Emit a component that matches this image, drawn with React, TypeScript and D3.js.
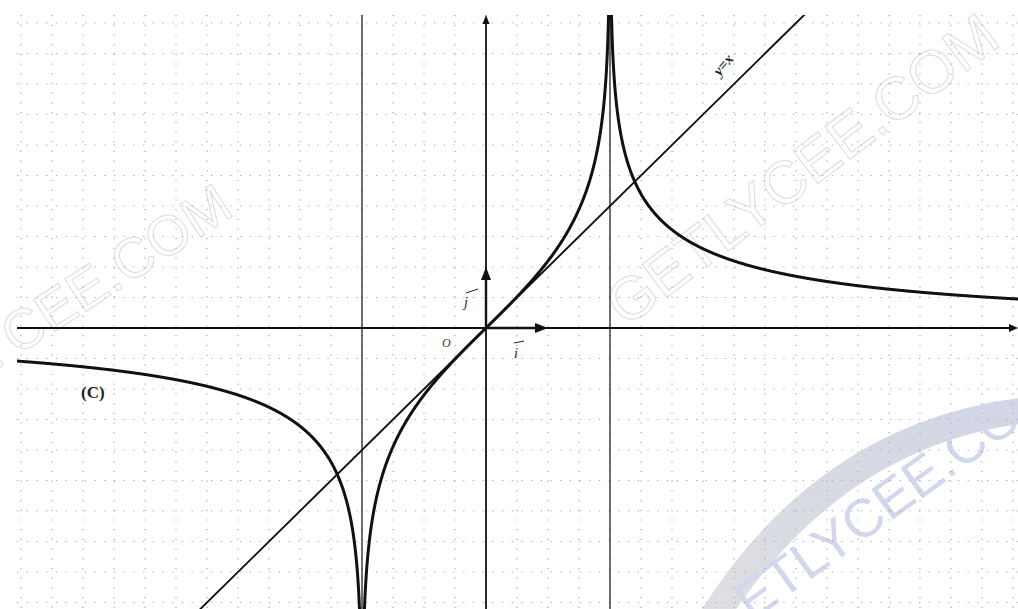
import * as d3 from "d3";

const W = 1018;
const H = 609;

// graph of (C): y = ln|(x + 2) / (x - 2)|, asymptotes x = -2 and x = 2
const asymptotes = [-2, 2];
const curveLabel = "(C)";
const lineLabel = "y=x";
const originLabel = "O";
const iLabel = "i";
const jLabel = "j";
const gridX = d3.range(-15, 18).map((k) => k / 2);
const gridY = d3.range(-9, 11).map((k) => k / 2);
const xMin = -7.85;
const xMax = 8.6;

// watermark texts
const marks = [
  { text: "GETLYCEE.COM", x: 236, y: 214, angle: -33, size: 56 },
  { text: "GETLYCEE.COM", x: 1003, y: 44, angle: -37, size: 60 },
];
const bandText = "ETLYCEE.CO";

const f = (x: number) => Math.log(Math.abs((x + 2) / (x - 2)));

const x = d3.scaleLinear().domain([-8, 9]).range([486 - 8 * 62, 486 + 9 * 62]);
const y = d3.scaleLinear().domain([-5, 5.5]).range([328 + 5 * 61, 328 - 5.5 * 61]);

const left = 17;
const top = 15;

function branch(a: number, b: number, dense: "a" | "b" | "both") {
  const n = 1600;
  return d3.range(n + 1).map((i) => {
    const t = i / n;
    let v: number;
    if (dense === "a") v = a + (b - a) * Math.pow(t, 4);
    else if (dense === "b") v = b - (b - a) * Math.pow(1 - t, 4);
    else {
      const u = 2 * t - 1;
      const m = (a + b) / 2;
      v = m + Math.sign(u) * ((b - a) / 2) * (1 - Math.pow(1 - Math.abs(u), 4));
    }
    return v;
  });
}

const line = d3
  .line<number>()
  .x((d) => x(d))
  .y((d) => Math.max(-2000, Math.min(2000, y(f(d)))));

const branches = [
  branch(xMin, -2 - 1e-6, "b"),
  branch(-2 + 1e-6, 2 - 1e-6, "both"),
  branch(2 + 1e-6, xMax, "a"),
];

function arrowHead(x0: number, y0: number, dir: "r" | "u", len = 11, half = 4) {
  if (dir === "r") return `M${x0},${y0} L${x0 - len},${y0 - half} L${x0 - len},${y0 + half} Z`;
  return `M${x0},${y0} L${x0 - half},${y0 + len} L${x0 + half},${y0 + len} Z`;
}

export default function App() {
  const ox = x(0);
  const oy = y(0);
  return (
    <svg
      width={W}
      height={H}
      style={{ position: "absolute", left: 0, top: 0, background: "#fff" }}
      fontFamily="'Liberation Serif', 'DejaVu Serif', serif"
    >
      <defs>
        <clipPath id="plot">
          <rect x={left} y={top} width={W - left} height={H - top} />
        </clipPath>
        <linearGradient id="band" x1="0" y1="1" x2="1" y2="0">
          <stop offset="0" stopColor="#dedfe2" />
          <stop offset="1" stopColor="#d2d5e5" />
        </linearGradient>
      </defs>

      {/* watermark band */}
      <path d="M700,612 Q818,424 1020,398 L1020,424 Q846,448 734,612 Z" fill="url(#band)" />
      <text
        transform="translate(752,622) rotate(-36)"
        fontFamily="'Liberation Sans', Arial, sans-serif"
        fontSize={54}
        fill="#d2d7ee"
      >
        {bandText}
      </text>
      {marks.map((m, i) => (
        <text
          key={i}
          transform={`translate(${m.x},${m.y}) rotate(${m.angle})`}
          textAnchor="end"
          fontFamily="'Liberation Sans', Arial, sans-serif"
          fontSize={m.size}
          fill="none"
          stroke="#dcdcdc"
          strokeWidth={1}
        >
          {m.text}
        </text>
      ))}

      {/* dotted grid */}
      <g stroke="#a8a8a8" strokeWidth={1.2} strokeDasharray="1.2 8.5">
        {gridX.map((v) => (
          <line key={"gx" + v} x1={x(v)} x2={x(v)} y1={top} y2={H} />
        ))}
        {gridY.map((v) => (
          <line key={"gy" + v} x1={left} x2={W} y1={y(v)} y2={y(v)} />
        ))}
      </g>

      {/* asymptotes */}
      {asymptotes.map((a) => (
        <line key={a} x1={x(a)} x2={x(a)} y1={top} y2={H} stroke="#222" strokeWidth={1.3} />
      ))}

      {/* axes */}
      <line x1={left} x2={W - 2} y1={oy} y2={oy} stroke="#111" strokeWidth={1.8} />
      <path d={arrowHead(W, oy, "r", 9, 4)} fill="#111" />
      <line x1={ox} x2={ox} y1={H} y2={top + 4} stroke="#111" strokeWidth={1.8} />
      <path d={arrowHead(ox, top, "u", 9, 3.5)} fill="#111" />

      {/* unit vectors */}
      <line x1={ox} x2={x(1) - 8} y1={oy} y2={oy} stroke="#111" strokeWidth={2.4} />
      <path d={arrowHead(x(1), oy, "r", 13, 5)} fill="#111" />
      <line x1={ox} x2={ox} y1={oy} y2={y(1) + 8} stroke="#111" strokeWidth={2.4} />
      <path d={arrowHead(ox, y(1), "u", 13, 5)} fill="#111" />

      <g clipPath="url(#plot)" fill="none" strokeLinejoin="round">
        {/* y = x */}
        <line x1={x(-6)} y1={y(-6)} x2={x(5.14)} y2={y(5.14)} stroke="#111" strokeWidth={1.9} />
        {/* (C) */}
        {branches.map((b, i) => (
          <path key={i} d={line(b) || ""} stroke="#111" strokeWidth={3} />
        ))}
      </g>

      {/* labels */}
      <text x={81} y={398} fontSize={17} fontWeight="bold" fill="#222">
        {curveLabel}
      </text>
      <text
        transform="translate(727,68) rotate(-50)"
        textAnchor="middle"
        fontSize={15}
        fontStyle="italic"
        fontWeight="bold"
        fill="#222"
      >
        {lineLabel}
      </text>
      <text x={442} y={347} fontSize={12} fontStyle="italic" fill="#333">
        {originLabel}
      </text>
      <text x={514} y={358} fontSize={14} fontStyle="italic" fill="#222">
        {iLabel}
      </text>
      <line x1={514} x2={524} y1={343} y2={341} stroke="#222" strokeWidth={1} />
      <text x={464} y={307} fontSize={14} fontStyle="italic" fill="#222">
        {jLabel}
      </text>
      <line x1={466} x2={478} y1={293} y2={289} stroke="#222" strokeWidth={1} />
    </svg>
  );
}
